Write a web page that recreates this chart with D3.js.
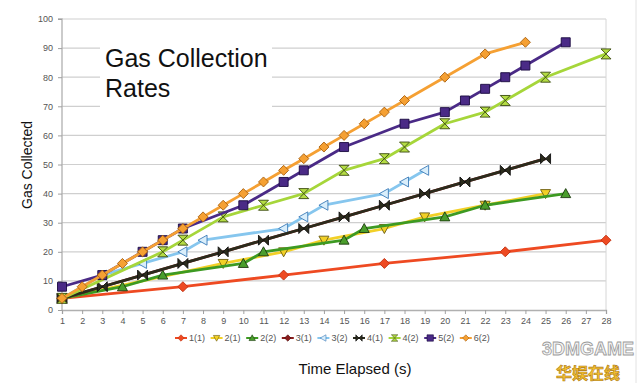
<!DOCTYPE html>
<html>
<head>
<meta charset="utf-8">
<script src="https://cdn.jsdelivr.net/npm/d3@7"></script>
<style>
  body { margin: 0; background: #fff; }
  svg text { font-family: "Liberation Sans", Arial, sans-serif; }
</style>
</head>
<body>
<div id="chart"></div>
<script>
// Time ticks (x categories) and value ticks
const timeTicks = [1, 2, 3, 4, 5, 6, 7, 8, 9, 10, 11, 12, 13, 14, 15, 16, 17, 18, 19, 20, 21, 22, 23, 24, 25, 26, 27, 28];
const valueTicks = [0, 10, 20, 30, 40, 50, 60, 70, 80, 90, 100];

// Series data as [time, gas] pairs
const s1_1 = [[1, 4], [7, 8], [12, 12], [17, 16], [23, 20], [28, 24]];
const s2_1 = [[1, 4], [9, 16], [12, 20], [14, 24], [17, 28], [19, 32], [22, 36], [25, 40]];
const s2_2 = [[1, 4], [4, 8], [6, 12], [10, 16], [11, 20], [15, 24], [16, 28], [20, 32], [22, 36], [26, 40]];
const s3_1 = [[1, 4], [3, 8], [5, 12], [7, 16], [9, 20], [11, 24], [13, 28], [15, 32], [17, 36], [19, 40], [21, 44], [23, 48], [25, 52]];
const s3_2 = [[1, 4], [3, 12], [5, 16], [7, 20], [8, 24], [12, 28], [13, 32], [14, 36], [17, 40], [18, 44], [19, 48]];
const s4_1 = [[1, 4], [3, 8], [5, 12], [7, 16], [9, 20], [11, 24], [13, 28], [15, 32], [17, 36], [19, 40], [21, 44], [23, 48], [25, 52]];
const s4_2 = [[1, 4], [6, 20], [7, 24], [9, 32], [11, 36], [13, 40], [15, 48], [17, 52], [18, 56], [20, 64], [22, 68], [23, 72], [25, 80], [28, 88]];
const s5_2 = [[1, 8], [3, 12], [5, 20], [6, 24], [7, 28], [10, 36], [12, 44], [13, 48], [15, 56], [18, 64], [20, 68], [21, 72], [22, 76], [23, 80], [24, 84], [26, 92]];
const s6_2 = [[1, 4], [2, 8], [3, 12], [4, 16], [5, 20], [6, 24], [7, 28], [8, 32], [9, 36], [10, 40], [11, 44], [12, 48], [13, 52], [14, 56], [15, 60], [16, 64], [17, 68], [18, 72], [20, 80], [22, 88], [24, 92]];

const seriesNames = ["1(1)", "2(1)", "2(2)", "3(1)", "3(2)", "4(1)", "4(2)", "5(2)", "6(2)"];
const seriesData = [s1_1, s2_1, s2_2, s3_1, s3_2, s4_1, s4_2, s5_2, s6_2];

// Styling per series
const lineColors = ["#ee4a22", "#f2d027", "#3d9a22", "#8a1c1c", "#86c6ee", "#2b2b1c", "#a6d63a", "#4a2a86", "#f5a033"];
const fillColors = ["#ee4a22", "#f2d027", "#4a9e2c", "#8a1c1c", "#d9eefb", "#2b2b1c", "#b4dc44", "#4a2a86", "#f5a033"];
const strokeColors = ["#c03010", "#6a5a10", "#1d3a10", "#4a0a0a", "#3a7ab8", "#111", "#3a4a10", "#1a0a40", "#a86010"];
const shapes = ["diamond", "tridown", "triup", "dash", "trileft", "bowtie", "hourglass", "square", "diamond"];

const W = 640, H = 383;
const margin = { top: 19, right: 34, bottom: 73, left: 62 };

const svg = d3.select("#chart")
    .append("svg")
    .attr("width", W)
    .attr("height", H);

const x = d3.scaleLinear()
    .domain([1, 28])
    .range([margin.left, W - margin.right]);

const y = d3.scaleLinear()
    .domain([0, 100])
    .range([H - margin.bottom, margin.top]);

// marker shape paths centred on 0,0
function shapePath(type, r) {
    switch (type) {
        case "diamond": return `M0,${-r}L${r},0L0,${r}L${-r},0Z`;
        case "square": return `M${-r},${-r}H${r}V${r}H${-r}Z`;
        case "triup": return `M0,${-r}L${r},${r * 0.8}L${-r},${r * 0.8}Z`;
        case "tridown": return `M${-r},${-r * 0.8}L${r},${-r * 0.8}L0,${r}Z`;
        case "trileft": return `M${-r},0L${r * 0.8},${-r}L${r * 0.8},${r}Z`;
        case "bowtie": return `M${-r},${-r}L${r},${r}L${r},${-r}L${-r},${r}Z`;
        case "hourglass": return `M${-r},${-r}H${r}L${-r},${r}H${r}Z`;
        case "dash": return `M${-r},${-r * 0.5}H${r}V${r * 0.5}H${-r}Z`;
    }
}

// Outer frame line on the right
svg.append("line")
    .attr("x1", 636).attr("x2", 636)
    .attr("y1", 0).attr("y2", H)
    .attr("stroke", "#e2e2e2");

// Gridlines
svg.append("g")
    .selectAll("line")
    .data(valueTicks.slice(1))
    .enter()
    .append("line")
    .attr("x1", margin.left)
    .attr("x2", W - margin.right)
    .attr("y1", d => y(d))
    .attr("y2", d => y(d))
    .attr("stroke", "#cfcfcf")
    .attr("stroke-width", 1.2);

// right plot border
svg.append("line")
    .attr("x1", x(28)).attr("x2", x(28))
    .attr("y1", y(100)).attr("y2", y(0))
    .attr("stroke", "#d6d6d6");

// Axes
const xAxis = svg.append("g")
    .attr("transform", `translate(0,${y(0)})`)
    .call(d3.axisBottom(x).tickValues(timeTicks).tickFormat(d3.format("d")).tickSize(4).tickPadding(4));
const yAxis = svg.append("g")
    .attr("transform", `translate(${margin.left},0)`)
    .call(d3.axisLeft(y).tickValues(valueTicks).tickSize(4).tickPadding(5));

[xAxis, yAxis].forEach(a => {
    a.select(".domain").attr("stroke", "#b0b0b0").attr("stroke-width", 1.3);
    a.selectAll(".tick line").attr("stroke", "#a0a0a0");
    a.selectAll(".tick text")
        .attr("fill", "#555")
        .style("font-size", "9px");
});
yAxis.select(".domain").attr("d", `M-4,${y(100)}H0V${y(0)}`);

// Title box (covers gridlines)
svg.append("rect")
    .attr("x", 100).attr("y", 40)
    .attr("width", 172).attr("height", 70)
    .attr("fill", "#fff");
svg.append("text")
    .attr("x", 105).attr("y", 67)
    .style("font-size", "25px")
    .attr("fill", "#111")
    .text("Gas Collection");
svg.append("text")
    .attr("x", 105).attr("y", 97)
    .style("font-size", "25px")
    .attr("fill", "#111")
    .text("Rates");

// Lines and markers
const line = d3.line()
    .x(d => x(d[0]))
    .y(d => y(d[1]));

seriesData.forEach((data, i) => {
    svg.append("path")
        .datum(data)
        .attr("fill", "none")
        .attr("stroke", lineColors[i])
        .attr("stroke-width", 2.8)
        .attr("stroke-linejoin", "round")
        .attr("d", line);

    if (shapes[i] === "dash") return;
    const r = shapes[i] === "square" ? 4.5 : 5;
    svg.append("g")
        .selectAll("path")
        .data(data)
        .enter()
        .append("path")
        .attr("transform", d => `translate(${x(d[0])},${y(d[1])})`)
        .attr("d", shapePath(shapes[i], r))
        .attr("fill", fillColors[i])
        .attr("stroke", strokeColors[i])
        .attr("stroke-width", 0.9);
});

// Legend
const legend = svg.append("g")
    .attr("transform", "translate(179,338)");
seriesNames.forEach((name, i) => {
    const g = legend.append("g")
        .attr("transform", `translate(${i * 35.6},0)`);
    g.append("line")
        .attr("x1", -4).attr("x2", 8)
        .attr("stroke", lineColors[i])
        .attr("stroke-width", 2);
    g.append("path")
        .attr("transform", "translate(2,0)")
        .attr("d", shapePath(shapes[i] === "dash" ? "diamond" : shapes[i], 3.2))
        .attr("fill", fillColors[i])
        .attr("stroke", strokeColors[i])
        .attr("stroke-width", 0.6);
    g.append("text")
        .attr("x", 10)
        .attr("y", 3)
        .style("font-size", "9px")
        .attr("fill", "#555")
        .text(name);
});

// Axis titles
svg.append("text")
    .attr("x", 355)
    .attr("y", 374)
    .attr("text-anchor", "middle")
    .style("font-size", "15px")
    .attr("fill", "#111")
    .text("Time Elapsed (s)");

svg.append("text")
    .attr("transform", "rotate(-90)")
    .attr("x", -165)
    .attr("y", 32)
    .attr("text-anchor", "middle")
    .style("font-size", "14px")
    .attr("fill", "#111")
    .text("Gas Collected");

// Watermark
svg.append("text")
    .attr("x", 588).attr("y", 355)
    .attr("text-anchor", "middle")
    .style("font-size", "18px")
    .style("font-weight", "bold")
    .attr("fill", "#f4f4f4")
    .attr("stroke", "#9a9a9a")
    .attr("stroke-width", 0.8)
    .text("3DMGAME");
svg.append("text")
    .attr("x", 588).attr("y", 379)
    .attr("text-anchor", "middle")
    .style("font-family", "'Noto Sans CJK SC', sans-serif")
    .style("font-size", "16px")
    .style("font-weight", "bold")
    .attr("fill", "#f3c030")
    .attr("stroke", "#b07a10")
    .attr("stroke-width", 0.6)
    .text("华娱在线");
</script>
</body>
</html>
